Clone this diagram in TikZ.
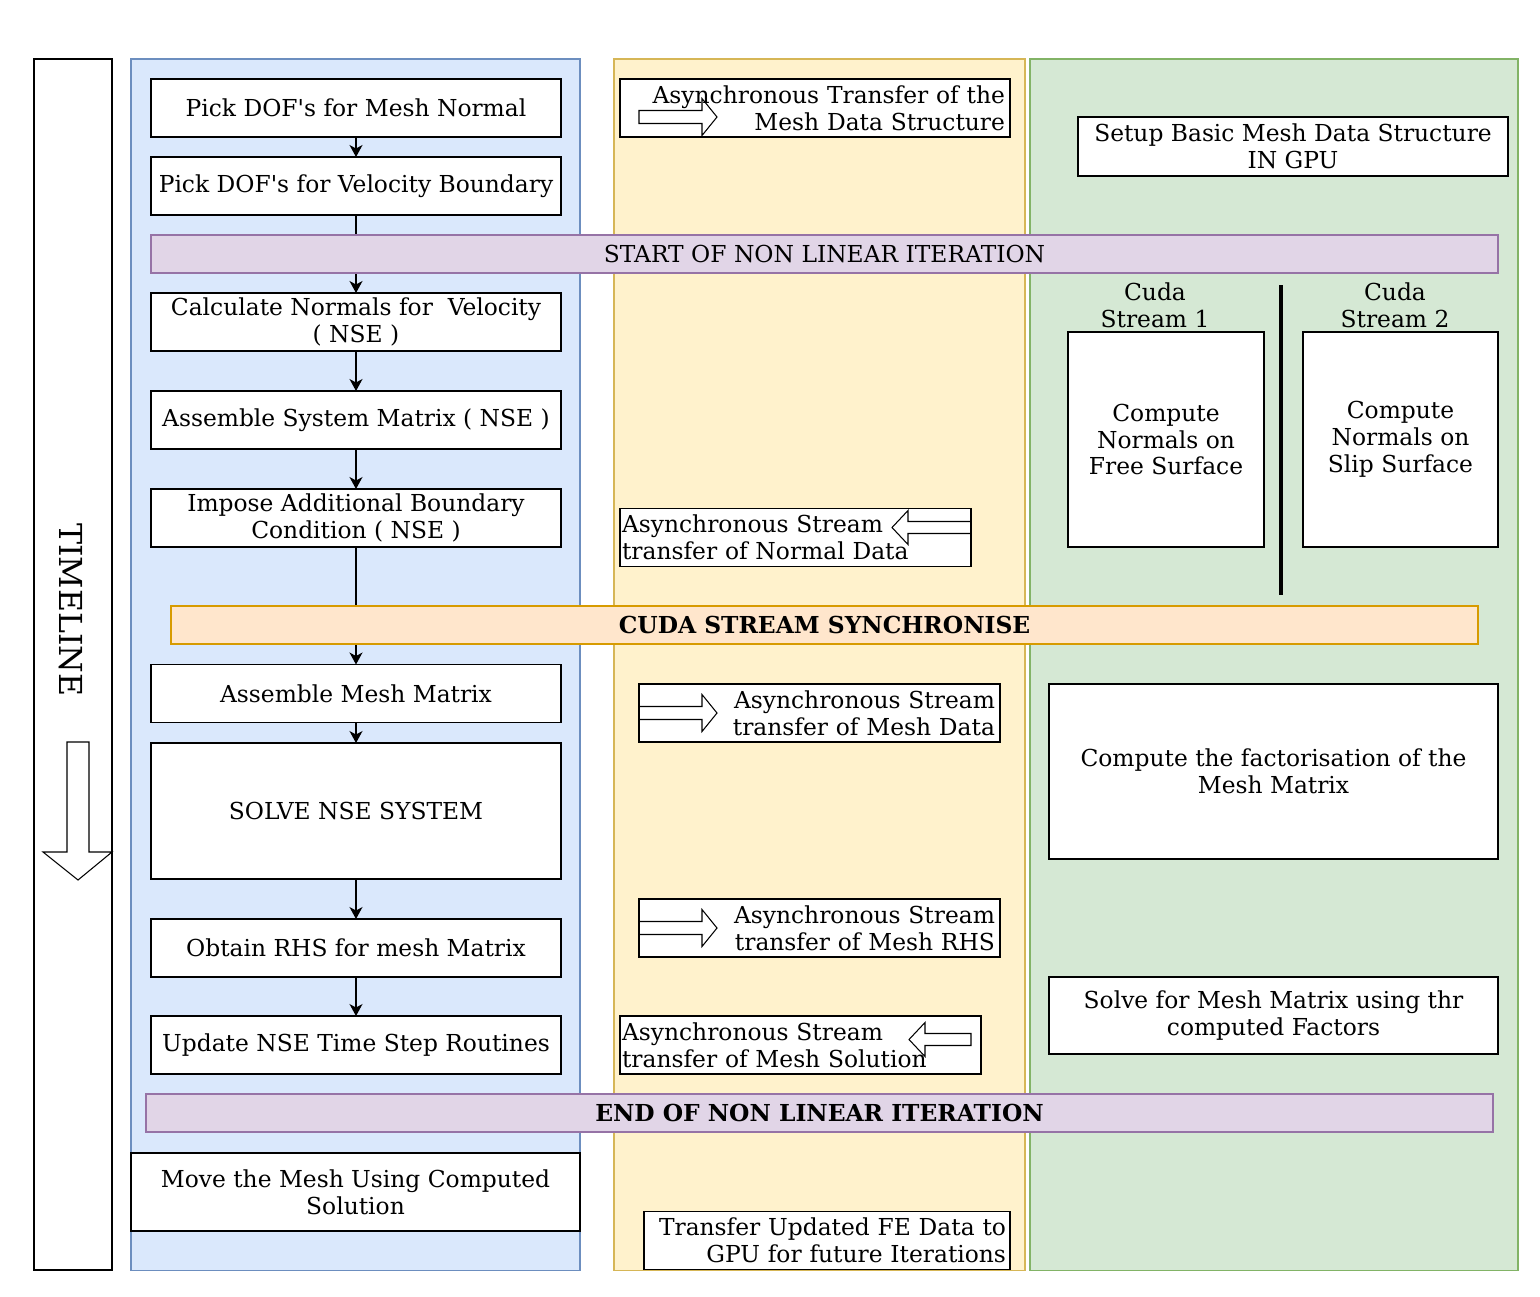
\documentclass[tikz,border=0pt]{standalone}
\usepackage{fontspec}
\setmainfont{DejaVu Serif}
\usetikzlibrary{arrows.meta}
\definecolor{bluefill}{HTML}{DAE8FC}
\definecolor{blueline}{HTML}{6C8EBF}
\definecolor{yellowfill}{HTML}{FFF2CC}
\definecolor{yellowline}{HTML}{D6B656}
\definecolor{greenfill}{HTML}{D5E8D4}
\definecolor{greenline}{HTML}{82B366}
\definecolor{purplefill}{HTML}{E1D5E7}
\definecolor{purpleline}{HTML}{9673A6}
\definecolor{orangefill}{HTML}{FFE6CC}
\definecolor{orangeline}{HTML}{D79B00}
% hollow arrow pointing right, left end at (#1,#2)
\def\rarr#1#2{\draw[line width=0.6pt] (#1,#2) ++(0,-6.5) -- ++(63,0) -- ++(0,-12) -- ++(15,18.5) -- ++(-15,18.5) -- ++(0,-12) -- ++(-63,0) -- cycle;}
% hollow arrow pointing left, right end at (#1,#2), shaft length #3
\def\larr#1#2#3{\draw[line width=0.6pt] (#1,#2) ++(0,-6) -- ++(-#3,0) -- ++(0,-11) -- ++(-16,17) -- ++(16,17) -- ++(0,-11) -- ++(#3,0) -- cycle;}

\begin{document}
\begin{tikzpicture}[x=0.02cm,y=-0.02cm,>={Stealth[length=0.24cm,width=0.26cm,inset=0.07cm]},font=\fontsize{13.3}{15.3}\selectfont,
    box/.style={draw,fill=white,line width=0.8pt,inner sep=0pt,outer sep=0pt,align=center,minimum height=1.16cm},
    lbox/.style={box,minimum width=8.2cm},
    tbox/.style={box,inner xsep=0.1cm},
    band/.style={draw,line width=0.8pt,inner sep=0pt,minimum height=0.76cm},
    lane/.style={line width=0.6pt},
    flow/.style={->,line width=0.8pt}]

    \useasboundingbox (0,0) rectangle (1540,1296);

    % lanes
    \draw[lane,line width=0.8pt,fill=white] (34,59) rectangle (112,1270);
    \draw[lane,fill=bluefill,draw=blueline] (131,59) rectangle (580,1270);
    \draw[lane,fill=yellowfill,draw=yellowline] (614,59) rectangle (1025,1270);
    \draw[lane,fill=greenfill,draw=greenline] (1030,59) rectangle (1518,1270);

    % timeline
    \node[rotate=-90,font=\fontsize{18}{20}\selectfont] (tl) at (71,610) {TIMELINE};
    \draw[line width=0.6pt,fill=white] (67,742) -- (89,742) -- (89,852) -- (112,852) -- (78,880) -- (43,852) -- (67,852) -- cycle;

    % host side
    \node[lbox] (pn) at (356,108) {Pick DOF\textquotesingle s for Mesh Normal};
    \node[lbox] (pv) at (356,186) {Pick DOF\textquotesingle s for Velocity Boundary};
    \node[lbox] (cn) at (356,322) {Calculate Normals for~ Velocity\\( NSE )};
    \node[lbox] (as) at (356,420) {Assemble System Matrix ( NSE )};
    \node[lbox] (ib) at (356,518) {Impose Additional Boundary\\Condition ( NSE )};
    \node[lbox] (am) at (356,693.5) {Assemble Mesh Matrix};
    \node[lbox,minimum height=2.72cm] (sn) at (356,811) {SOLVE NSE SYSTEM};
    \node[lbox] (rh) at (356,948) {Obtain RHS for mesh Matrix};
    \node[lbox] (up) at (356,1045) {Update NSE Time Step Routines};
    \node[box,minimum width=8.98cm,minimum height=1.56cm] (mv) at (355.5,1192) {Move the Mesh Using Computed\\Solution};

    \draw[flow] (pn) -- (pv);
    \draw[flow] (pv) -- (cn);
    \draw[flow] (cn) -- (as);
    \draw[flow] (as) -- (ib);
    \draw[flow] (ib) -- (am);
    \draw[flow] (am) -- (sn);
    \draw[flow] (sn) -- (rh);
    \draw[flow] (rh) -- (up);

    % iteration bands
    \node[band,fill=purplefill,draw=purpleline,minimum width=26.94cm] (start) at (824.5,254) {START OF NON LINEAR ITERATION};
    \node[band,fill=orangefill,draw=orangeline,minimum width=26.14cm,font=\fontsize{13.3}{15.3}\bfseries] (sync) at (824.5,625) {CUDA STREAM SYNCHRONISE};
    \node[band,fill=purplefill,draw=purpleline,minimum width=26.94cm,font=\fontsize{13.3}{15.3}\bfseries] (end) at (819.5,1113) {END OF NON LINEAR ITERATION};

    % transfers
    \node[tbox,text width=7.6cm,align=right] (tm) at (815,108) {Asynchronous Transfer of the\\Mesh Data Structure};
    \rarr{639}{117}
    \node[box,inner xsep=0.04cm,text width=6.94cm,align=left] (tn) at (795.5,537.5) {Asynchronous Stream\\transfer of Normal Data};
    \larr{971}{527.5}{63}
    \node[tbox,text width=7.02cm,align=right] (td) at (819.5,713) {Asynchronous Stream\\transfer of Mesh Data};
    \rarr{639}{713}
    \node[tbox,text width=7.02cm,align=right] (tr) at (819.5,928) {Asynchronous Stream\\transfer of Mesh RHS};
    \rarr{639}{928}
    \node[box,inner xsep=0.04cm,text width=7.14cm,align=left] (ts) at (800.5,1045) {Asynchronous Stream\\transfer of Mesh Solution};
    \larr{971}{1039.5}{46}
    \node[box,inner xsep=0.08cm,text width=7.16cm,align=right] (tf) at (827,1240.5) {Transfer Updated FE Data to\\GPU for future Iterations};

    % device side
    \node[box,minimum width=8.6cm,minimum height=1.18cm] (sb) at (1293,146.5) {Setup Basic Mesh Data Structure\\IN GPU};
    \node[align=center,inner sep=0pt] (s1) at (1155,305) {Cuda\\Stream 1};
    \node[align=center,inner sep=0pt] (s2) at (1395,305) {Cuda\\Stream 2};
    \node[box,minimum width=3.92cm,minimum height=4.3cm] (fs) at (1166,439.5) {Compute\\Normals on\\Free Surface};
    \node[box,minimum width=3.9cm,minimum height=4.3cm] (ss) at (1400.5,439.5) {Compute\\Normals on\\Slip Surface};
    \draw[line width=2.2pt] (1281,285) -- (1281,595);
    \node[box,minimum width=8.98cm,minimum height=3.5cm] (fa) at (1273.5,771.5) {Compute the factorisation of the\\Mesh Matrix};
    \node[box,minimum width=8.98cm,minimum height=1.54cm] (sv) at (1273.5,1015.5) {Solve for Mesh Matrix using thr\\computed Factors};

\end{tikzpicture}
\end{document}
